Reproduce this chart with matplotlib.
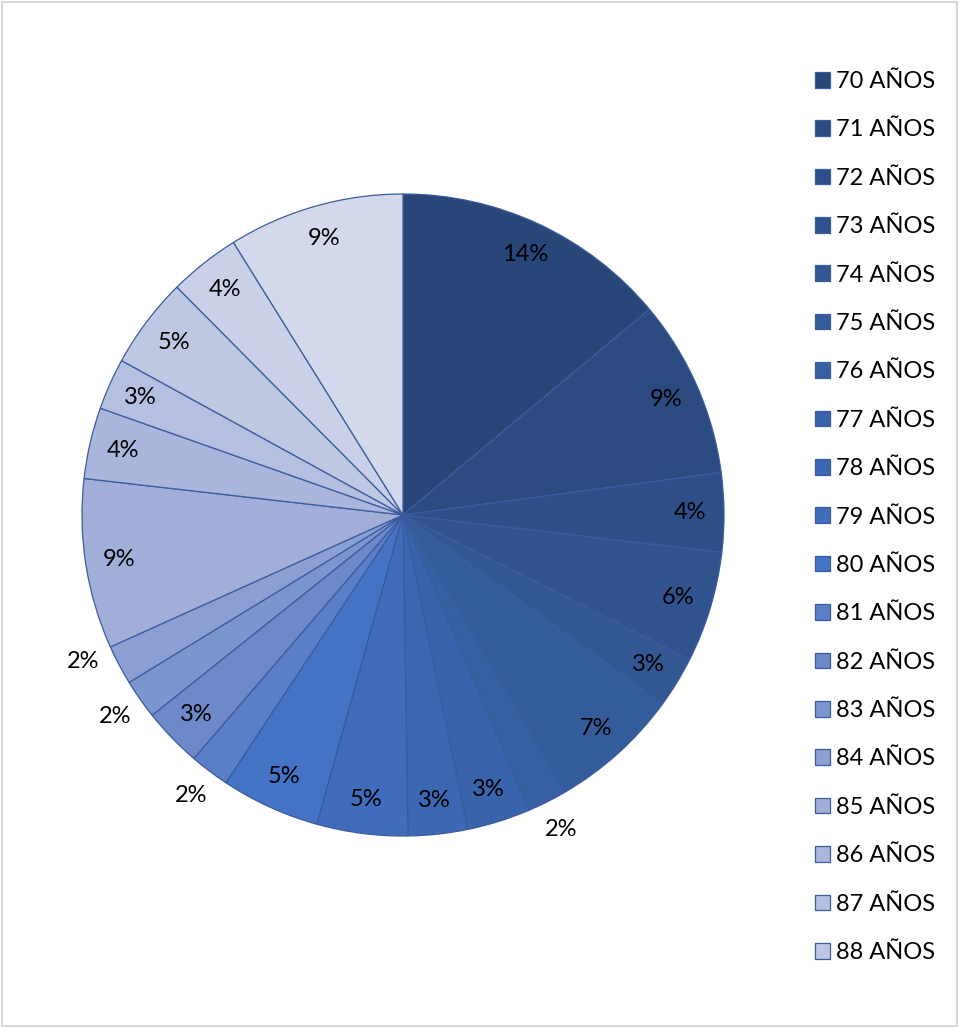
import matplotlib
matplotlib.use("Agg")
import matplotlib.pyplot as plt
from matplotlib.patches import Rectangle
import numpy as np

plt.rcParams['font.family'] = ['Lato', 'DejaVu Sans']

# ---- data (percent shares) ----
ages = [f"{a} AÑOS" for a in range(70, 91)]
shares = [14.0, 9.0, 4.0, 5.6, 2.6, 6.6, 2.0, 3.2, 3.0, 4.6, 5.0,
          2.0, 3.0, 2.0, 2.0, 8.6, 3.6, 2.6, 4.6, 3.6, 8.9]
legend_count = 19  # legend in the picture only lists 70..88

colors = ['#294679', '#2B4A80', '#2D4E86', '#30538D', '#325793', '#345B9A',
          '#3760A3', '#3963AA', '#3C67B2', '#3F6CBB', '#4472C4',
          '#5A7FC8', '#6D89C9', '#7B95CF', '#8C9FD3', '#A0AED8',
          '#AAB6DC', '#B5BFE0', '#BFC8E3', '#C9D0E7', '#D3D9EB']

# angular nudge (degrees) for an outside label that the original shifted to avoid overlap
label_nudge = {14: -3.2}

W, H = 959, 1027
fig = plt.figure(figsize=(W / 100, H / 100), dpi=100)
fig.patch.set_facecolor('white')

cx, cy, r = 403, 515, 321
ax = fig.add_axes([(cx - r) / W, (H - cy - r) / H, 2 * r / W, 2 * r / H])

total = sum(shares)

wedges, texts = ax.pie(shares, colors=colors, startangle=90, counterclock=False,
                       radius=1.0,
                       wedgeprops=dict(edgecolor='#3A5C9E', linewidth=0.9))

FS = 17
for i, (w, v) in enumerate(zip(wedges, shares)):
    pct = 100 * v / total
    mid = np.deg2rad((w.theta1 + w.theta2) / 2 + label_nudge.get(i, 0))
    d = 1.095 if pct < 2.5 else 0.895
    ax.text(d * np.cos(mid), d * np.sin(mid), f"{pct:.0f}%", ha='center', va='center',
            fontsize=FS, color='black')

ax.set_xlim(-1, 1)
ax.set_ylim(-1, 1)
ax.set_aspect('equal')
ax.axis('off')

leg = fig.legend(wedges[:legend_count], ages[:legend_count], loc='upper left',
                 bbox_to_anchor=(815 / W, 1 - 71 / H), frameon=False,
                 fontsize=FS, handlelength=0.64, handleheight=0.64,
                 handletextpad=0.27, labelspacing=1.16, borderpad=0, borderaxespad=0)

fig.patches.append(Rectangle((1.5 / W, 1.5 / H), 1 - 3.5 / W, 1 - 3.5 / H,
                             transform=fig.transFigure, fill=False,
                             edgecolor='#D0D0D0', linewidth=1.2))

fig.savefig('out.png', dpi=100)
